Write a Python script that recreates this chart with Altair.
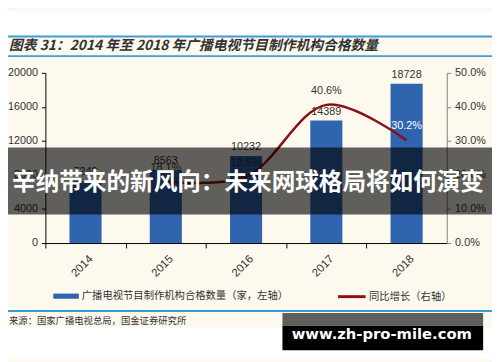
import altair as alt
import pandas as pd

# ---- data ----
years = ["2014", "2015", "2016", "2017", "2018"]
counts = [7248, 8563, 10232, 14389, 18728]
growth_years = ["2015", "2016", "2017", "2018"]
growth = [0.181, 0.195, 0.406, 0.302]
left_ticks = [0, 4000, 8000, 12000, 16000, 20000]
right_ticks = [0.0, 0.1, 0.2, 0.3, 0.4, 0.5]
bar_series = "广播电视节目制作机构合格数量（家，左轴）"
line_series = "同比增长（右轴）"
title_text = "图表 31：2014 年至 2018 年广播电视节目制作机构合格数量"
source_text = "来源：国家广播电视总局，国金证券研究所"
banner_text = "辛纳带来的新风向：未来网球格局将如何演变"
watermark_text = "www.zh-pro-mile.com"

bars_df = pd.DataFrame({"year": years, "count": counts, "series": bar_series})
line_df = pd.DataFrame({"year": growth_years, "growth": growth, "series": line_series})
one = pd.DataFrame({"k": [0]})

FONT = "Liberation Sans, Noto Sans CJK SC, sans-serif"
CJK = "Noto Sans CJK SC, sans-serif"
BLUE = "#2f64ae"
RED = "#8c1010"
CREAM = "#fdf9ef"
LINEBLUE = "#3d9bd6"
TXT = "#333333"

x_enc = alt.X(
    "year:N",
    sort=years,
    scale=alt.Scale(domain=years, paddingInner=0.6, paddingOuter=0.3),
    axis=alt.Axis(
        title=None, labelAngle=-45, labelFont=FONT, labelFontSize=11.5, labelColor=TXT,
        domainColor="#000000", tickColor="#000000", tickSize=5,
        tickOffset=-40.8, labelOffset=42, labelPadding=5, grid=False,
        labelOverlap=False,
    ),
)


def rect(x, x2, y, y2, color, opacity=1.0):
    return alt.Chart(one).mark_rect(color=color, opacity=opacity).encode(
        x=alt.value(x), x2=alt.value(x2), y=alt.value(y), y2=alt.value(y2)
    )


def hrule(x, x2, y, color, width):
    return alt.Chart(one).mark_rule(color=color, strokeWidth=width).encode(
        x=alt.value(x), x2=alt.value(x2), y=alt.value(y)
    )


def label(text, x, y, **kw):
    return alt.Chart(one).mark_text(text=text, **kw).encode(x=alt.value(x), y=alt.value(y))


# ---- background decorations ----
top_white = rect(-38, 454, -63, -38, "#ffffff")
bottom_white = rect(-38, 454, 259, 291, "#ffffff")
rule1 = hrule(-38, 454, -37, LINEBLUE, 2)
rule2 = hrule(-38, 454, -17, LINEBLUE, 2)
rule3 = hrule(-38, 454, 242, LINEBLUE, 2)
title = label(title_text, -37, -27, align="left", baseline="middle", font=CJK,
              fontSize=14, fontWeight="bold", fontStyle="italic", color=TXT)
source = label(source_text, -37, 252, align="left", baseline="middle", font=CJK,
               fontSize=9.5, color=TXT)

# ---- bars ----
bars = alt.Chart(bars_df).mark_bar(size=32.6).encode(
    x=x_enc,
    y=alt.Y(
        "count:Q",
        scale=alt.Scale(domain=[0, 20000]),
        axis=alt.Axis(
            title=None, orient="left", values=left_ticks, tickCount=12, format="d",
            labelFont=FONT, labelFontSize=11, labelColor=TXT, domainColor="#000000",
            tickColor="#000000", tickSize=4, labelPadding=4, grid=False, labelOverlap=False,
        ),
    ),
    color=alt.Color(
        "series:N",
        scale=alt.Scale(domain=[bar_series], range=[BLUE]),
        legend=alt.Legend(
            title=None, orient="none", legendX=7, legendY=213, padding=0,
            symbolType="M-1,-0.2H1V0.2H-1Z", symbolSize=676, symbolOpacity=1,
            labelFont=CJK, labelFontSize=10.5, labelColor=TXT, labelOffset=2,
            labelLimit=400,
        ),
    ),
)
bar_labels = alt.Chart(bars_df).mark_text(
    baseline="bottom", dy=-4, font=FONT, fontSize=11, color=TXT
).encode(x=alt.X("year:N", sort=years), y=alt.Y("count:Q"), text=alt.Text("count:Q", format="d"))
bar_group = alt.layer(bars, bar_labels)

# ---- line ----
line = alt.Chart(line_df).mark_line(interpolate="catmull-rom", strokeWidth=2.5).encode(
    x=alt.X("year:N", sort=years),
    y=alt.Y(
        "growth:Q",
        scale=alt.Scale(domain=[0, 0.5]),
        axis=alt.Axis(
            title=None, orient="right", values=right_ticks, tickCount=12, format=".1%",
            labelFont=FONT, labelFontSize=11, labelColor=TXT, domainColor="#7f7f7f",
            tickColor="#7f7f7f", tickSize=4, labelPadding=4, grid=False, labelOverlap=False,
        ),
    ),
    stroke=alt.Stroke(
        "series:N",
        scale=alt.Scale(domain=[line_series], range=[RED]),
        legend=alt.Legend(
            title=None, orient="none", legendX=296, legendY=212, padding=0,
            symbolType="stroke", symbolSize=784, symbolStrokeWidth=3,
            labelFont=CJK, labelFontSize=10.5, labelColor=TXT, labelOffset=2,
            labelLimit=300,
        ),
    ),
)
line_labels = alt.Chart(line_df).mark_text(
    baseline="middle", dy=-14, font=FONT, fontSize=11
).encode(
    x=alt.X("year:N", sort=years),
    y=alt.Y("growth:Q"),
    text=alt.Text("growth:Q", format=".1%"),
    color=alt.condition(alt.datum.year == "2018", alt.value("#ffffff"), alt.value(TXT)),
)
line_group = alt.layer(line, line_labels)

# ---- overlays ----
banner = rect(-38, 454, 76, 144, "#000000", 0.62)
banner_label = label(banner_text, 206, 112, align="center", baseline="middle", font=CJK,
                     fontSize=24, fontWeight="bold", color="#ffffff")
wm_gray = rect(241, 445, 244, 257, "#5f5f5d")
wm_black = rect(241, 445, 257, 282, "#000000")
wm_label = label(watermark_text, 342, 266, align="center", baseline="middle",
                 font="DejaVu Sans, sans-serif", fontSize=15, fontWeight="bold", color="#ffffff")

chart = alt.layer(
    top_white, bottom_white, rule1, rule2, rule3, title, source,
    bar_group, line_group,
    banner, banner_label, wm_gray, wm_black, wm_label,
).resolve_scale(y="independent").properties(
    width=408,
    height=173,
    padding={"left": 38, "top": 63, "right": 46, "bottom": 118},
    autosize=alt.AutoSizeParams(type="none"),
    background=CREAM,
).configure_view(stroke=None)

chart.save("out.html", embed_options={"renderer": "svg", "actions": False})
